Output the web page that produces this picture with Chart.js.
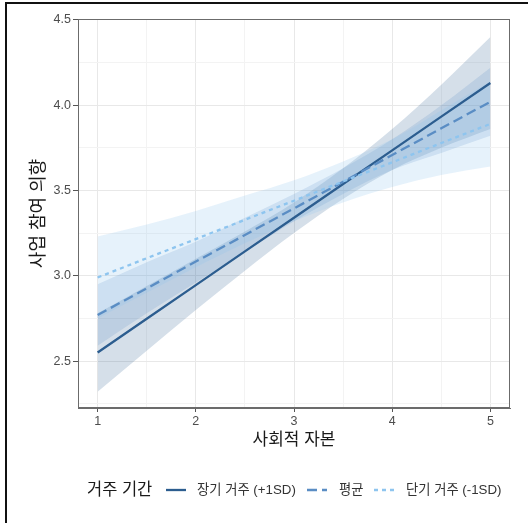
<!DOCTYPE html>
<html>
<head>
<meta charset="utf-8">
<script src="https://cdn.jsdelivr.net/npm/chart.js@4/dist/chart.umd.min.js"></script>
<style>
  html, body { margin: 0; padding: 0; background: #fff; }
  #wrap { position: relative; width: 528px; height: 523px; }
</style>
</head>
<body>
<div id="wrap"><canvas id="chart" width="528" height="523"></canvas></div>
<script>
// 사회적 자본 x 거주 기간 상호작용 — 예측선과 신뢰구간
const X_VALS = [1, 1.5, 2, 2.5, 3, 3.5, 4, 4.5, 5];

// 장기 거주 (+1SD)
const LONG_FIT = [2.55, 2.748, 2.945, 3.143, 3.34, 3.538, 3.735, 3.933, 4.13];
const LONG_LO  = [2.32, 2.56, 2.80, 3.03, 3.25, 3.45, 3.62, 3.75, 3.86];
const LONG_HI  = [2.78, 2.94, 3.10, 3.26, 3.43, 3.63, 3.86, 4.12, 4.40];

// 평균
const MEAN_FIT = [2.77, 2.926, 3.083, 3.239, 3.395, 3.551, 3.708, 3.864, 4.02];
const MEAN_LO  = [2.59, 2.78, 2.96, 3.14, 3.32, 3.48, 3.62, 3.72, 3.82];
const MEAN_HI  = [2.95, 3.08, 3.20, 3.34, 3.48, 3.63, 3.80, 4.00, 4.22];

// 단기 거주 (-1SD)
const SHORT_FIT = [2.99, 3.103, 3.215, 3.328, 3.44, 3.553, 3.665, 3.778, 3.89];
const SHORT_LO  = [2.75, 2.90, 3.05, 3.19, 3.32, 3.43, 3.52, 3.59, 3.64];
const SHORT_HI  = [3.23, 3.30, 3.38, 3.47, 3.56, 3.67, 3.80, 3.97, 4.14];

const SERIES_LABELS = ['장기 거주 (+1SD)', '평균', '단기 거주 (-1SD)'];
const LEGEND_TITLE = '거주 기간';
const X_TITLE = '사회적 자본';
const Y_TITLE = '사업 참여 의향';

const X_TICKS = [1, 2, 3, 4, 5];
const X_GRID  = [1, 1.5, 2, 2.5, 3, 3.5, 4, 4.5, 5];
const Y_TICKS = [2.5, 3.0, 3.5, 4.0, 4.5];
const Y_GRID  = [2.25, 2.5, 2.75, 3.0, 3.25, 3.5, 3.75, 4.0, 4.25, 4.5];

// 색상
const COL_LONG  = '#2c5d8f';
const COL_MEAN  = '#5a8dc4';
const COL_SHORT = '#8ec5ef';
const FILL_LONG  = 'rgba(44,93,143,0.20)';
const FILL_MEAN  = 'rgba(90,141,196,0.20)';
const FILL_SHORT = 'rgba(142,197,239,0.22)';

const DASH_MEAN  = [10, 5];
const DASH_SHORT = [4, 4];

const FONT_FAMILY = "'Liberation Sans', 'Noto Sans CJK KR', sans-serif";

const pts = ys => X_VALS.map((x, i) => ({ x: x, y: ys[i] }));

function lineSet(label, data, color, dash, width) {
  return {
    label: label, data: pts(data), borderColor: color, borderWidth: width,
    borderDash: dash, pointRadius: 0, fill: false, tension: 0,
    borderCapStyle: 'butt'
  };
}
function bandSet(data, fill, toNext) {
  return {
    label: '', data: pts(data), borderWidth: 0, borderColor: 'rgba(0,0,0,0)',
    backgroundColor: fill, pointRadius: 0, fill: toNext ? '+1' : false,
    cubicInterpolationMode: 'monotone'
  };
}

// 범례 + 패널 테두리 + 바깥 프레임
const decorPlugin = {
  id: 'decor',
  afterDraw(chart) {
    const ctx = chart.ctx;
    const a = chart.chartArea;
    ctx.save();
    ctx.strokeStyle = '#6b6b6b';
    ctx.lineWidth = 1;
    ctx.strokeRect(a.left + 0.5, a.top + 0.5, a.right - a.left - 1, a.bottom - a.top - 1);

    // 바깥 프레임 (좌/상)
    ctx.fillStyle = '#111';
    ctx.fillRect(5, 2, 2, 521);
    ctx.fillRect(5, 2, 523, 2);

    // 범례
    const y = 490;
    ctx.textBaseline = 'middle';
    ctx.textAlign = 'left';
    ctx.fillStyle = '#1a1a1a';
    ctx.font = '16.5px ' + FONT_FAMILY;
    ctx.fillText(LEGEND_TITLE, 87, y);

    const keys = [
      { x0: 166, tx: 197, color: COL_LONG,  dash: [],         w: 2.3 },
      { x0: 307, tx: 339, color: COL_MEAN,  dash: DASH_MEAN,  w: 2.3 },
      { x0: 374, tx: 406, color: COL_SHORT, dash: DASH_SHORT, w: 2.3 }
    ];
    ctx.font = '13.3px ' + FONT_FAMILY;
    keys.forEach((k, i) => {
      ctx.beginPath();
      ctx.setLineDash(k.dash);
      ctx.strokeStyle = k.color;
      ctx.lineWidth = k.w;
      ctx.moveTo(k.x0, y);
      ctx.lineTo(k.x0 + 20, y);
      ctx.stroke();
      ctx.setLineDash([]);
      ctx.fillStyle = '#333';
      ctx.fillText(SERIES_LABELS[i], k.tx, y + 0.5);
    });
    ctx.restore();
  }
};

const isIn = (arr, v) => arr.some(t => Math.abs(t - v) < 1e-9);

new Chart(document.getElementById('chart'), {
  type: 'line',
  data: {
    datasets: [
      lineSet(SERIES_LABELS[2], SHORT_FIT, COL_SHORT, DASH_SHORT, 2.3),
      lineSet(SERIES_LABELS[1], MEAN_FIT,  COL_MEAN,  DASH_MEAN,  2.3),
      lineSet(SERIES_LABELS[0], LONG_FIT,  COL_LONG,  [],         2.3),
      bandSet(SHORT_HI, FILL_SHORT, true),
      bandSet(SHORT_LO, FILL_SHORT, false),
      bandSet(MEAN_HI,  FILL_MEAN,  true),
      bandSet(MEAN_LO,  FILL_MEAN,  false),
      bandSet(LONG_HI,  FILL_LONG,  true),
      bandSet(LONG_LO,  FILL_LONG,  false)
    ]
  },
  options: {
    responsive: false,
    animation: false,
    devicePixelRatio: 1,
    layout: { padding: { left: 0, top: 19, right: 18, bottom: 69 } },
    plugins: { legend: { display: false }, tooltip: { enabled: false } },
    scales: {
      x: {
        type: 'linear', min: 0.8, max: 5.2,
        afterBuildTicks: s => { s.ticks = X_GRID.map(v => ({ value: v })); },
        afterFit: s => { s.height = 46; },
        ticks: {
          autoSkip: false, maxRotation: 0, padding: 2,
          color: '#4d4d4d', font: { family: FONT_FAMILY, size: 12.5 },
          callback: v => isIn(X_TICKS, v) ? String(v) : ''
        },
        grid: {
          tickLength: 4,
          color: c => isIn(X_TICKS, c.tick.value) ? '#e8e8e8' : '#f3f3f3',
          tickColor: c => isIn(X_TICKS, c.tick.value) ? '#555' : 'rgba(0,0,0,0)'
        },
        border: { color: '#6b6b6b', width: 1 },
        title: {
          display: true, text: X_TITLE, color: '#1a1a1a',
          font: { family: FONT_FAMILY, size: 17 }, padding: { top: 0, bottom: 3 }
        }
      },
      y: {
        type: 'linear', min: 2.225, max: 4.505,
        afterBuildTicks: s => { s.ticks = Y_GRID.map(v => ({ value: v })); },
        afterFit: s => { s.width = 78; },
        ticks: {
          autoSkip: false, padding: 2,
          color: '#4d4d4d', font: { family: FONT_FAMILY, size: 12.5 },
          callback: v => isIn(Y_TICKS, v) ? v.toFixed(1) : ''
        },
        grid: {
          tickLength: 5,
          color: c => isIn(Y_TICKS, c.tick.value) ? '#e8e8e8' : '#f3f3f3',
          tickColor: c => isIn(Y_TICKS, c.tick.value) ? '#555' : 'rgba(0,0,0,0)'
        },
        border: { color: '#6b6b6b', width: 1 },
        title: {
          display: true, text: Y_TITLE, color: '#1a1a1a',
          font: { family: FONT_FAMILY, size: 18 }, padding: { top: 28, bottom: 0 }
        }
      }
    }
  },
  plugins: [decorPlugin]
});
</script>
</body>
</html>
